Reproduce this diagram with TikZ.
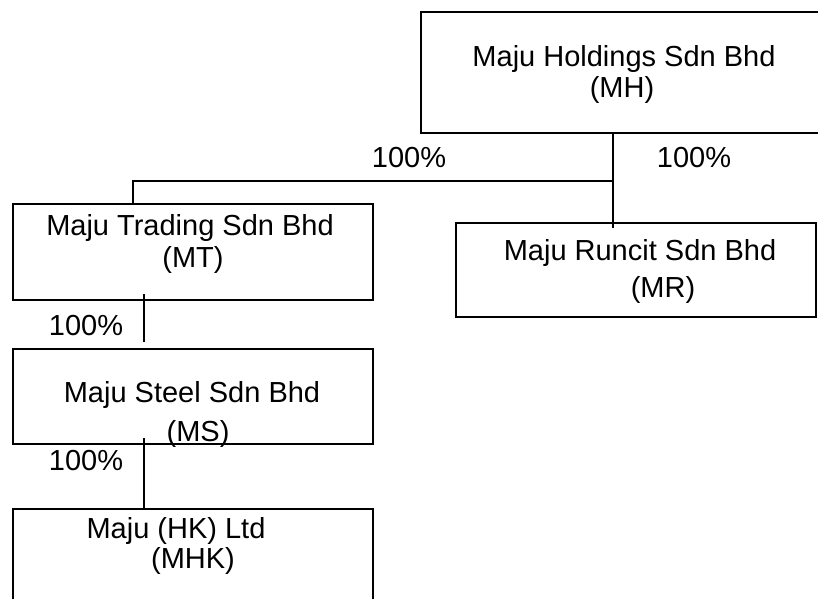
\documentclass[tikz,border=0pt]{standalone}
\usepackage{fontspec}
\setmainfont{Liberation Sans}
\begin{document}
\begin{tikzpicture}[x=1pt,y=-1pt,
  box/.style={draw, line width=1.5pt, inner sep=0pt, outer sep=0pt, anchor=north west},
  txt/.style={font=\fontsize{29}{33}\selectfont, inner sep=0pt, anchor=base},
  conn/.style={line width=1.5pt}]
\useasboundingbox (0,0) rectangle (818,598);
\clip (0,0) rectangle (818,598);
% boxes
\node[box, minimum width=420pt, minimum height=121pt] (mh) at (421,12) {};
\node[box, minimum width=360pt, minimum height=94pt] (mr) at (456,223) {};
\node[box, minimum width=360pt, minimum height=96pt] (mt) at (13,204) {};
\node[box, minimum width=360pt, minimum height=95pt] (ms) at (13,349) {};
\node[box, minimum width=360pt, minimum height=120pt] (mhk) at (13,509) {};
% texts
\node[txt] (t1) at (624,66) {Maju Holdings Sdn Bhd};
\node[txt] (t2) at (622,97) {(MH)};
\node[txt] (p1) at (409,167) {100\%};
\node[txt] (p2) at (694,167) {100\%};
\node[txt] (t3) at (190,235) {Maju Trading Sdn Bhd};
\node[txt] (t4) at (193,267) {(MT)};
\node[txt] (p3) at (86,335) {100\%};
\node[txt] (t5) at (192,402) {Maju Steel Sdn Bhd};
\node[txt] (t6) at (198,441) {(MS)};
\node[txt] (p4) at (86,470) {100\%};
\node[txt] (t7) at (176,538) {Maju (HK) Ltd};
\node[txt] (t8) at (193,568) {(MHK)};
\node[txt] (t9) at (640,260) {Maju Runcit Sdn Bhd};
\node[txt] (t10) at (663,297) {(MR)};
% connectors
\coordinate (j) at (613,181);
\coordinate (k) at (133,181);
\coordinate (jr) at (613,228);
\coordinate (a1) at (144,294);
\coordinate (a2) at (144,342);
\coordinate (b1) at (144,438);
\draw[conn] (j |- mh.south) -- (jr);
\draw[conn] (j) -- (k) -- (k |- mt.north);
\draw[conn] (a1) -- (a2);
\draw[conn] (b1) -- (b1 |- mhk.north);
\end{tikzpicture}
\end{document}
